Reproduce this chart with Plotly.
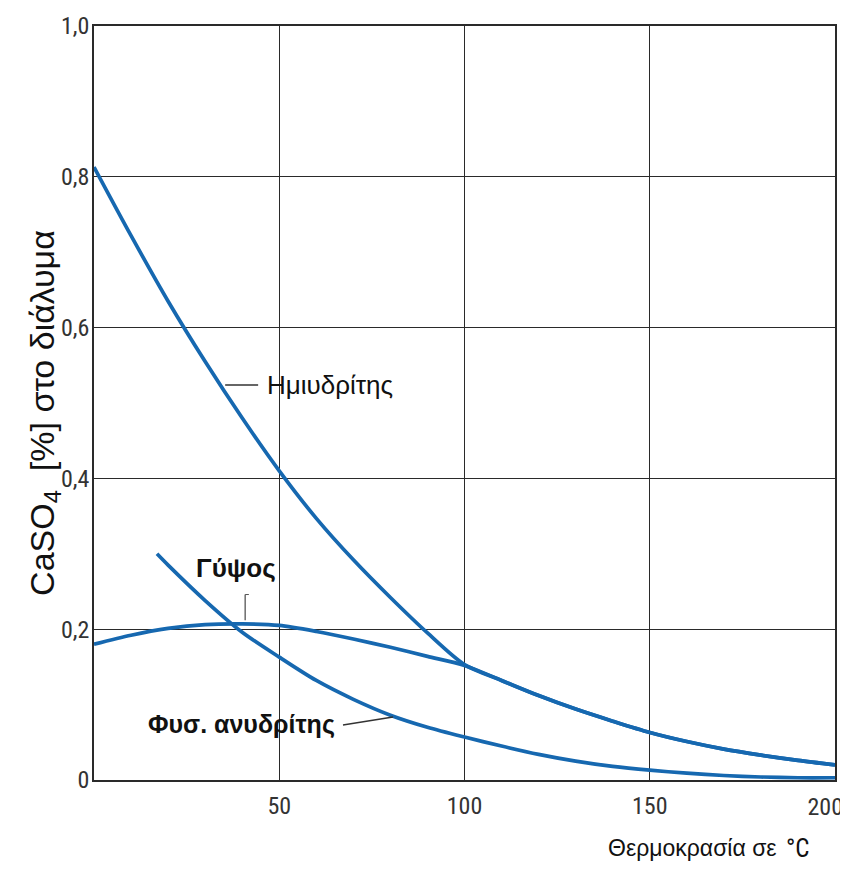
import plotly.graph_objects as go

# ---- data ----
hemi_x = [0, 10, 20, 30, 40, 50, 60, 70, 80, 90, 100, 110, 120, 130, 140, 150, 160, 170, 180, 190, 200]
hemi_y = [0.813, 0.722, 0.635, 0.555, 0.480, 0.410, 0.347, 0.292, 0.242, 0.195, 0.153,
          0.132, 0.112, 0.094, 0.078, 0.063, 0.051, 0.041, 0.033, 0.026, 0.020]

gyps_x = [0, 10, 20, 30, 40, 50, 60, 70, 80, 90, 100, 110, 120, 130, 140, 150, 160, 170, 180, 190, 200]
gyps_y = [0.180, 0.192, 0.201, 0.206, 0.207, 0.205, 0.197, 0.187, 0.176, 0.164, 0.152,
          0.132, 0.112, 0.094, 0.078, 0.063, 0.051, 0.041, 0.033, 0.026, 0.020]

anhy_x = [17, 20, 30, 40, 50, 60, 70, 80, 90, 100, 110, 120, 130, 140, 150, 160, 170, 180, 190, 200]
anhy_y = [0.300, 0.285, 0.238, 0.196, 0.163, 0.132, 0.107, 0.086, 0.070, 0.057, 0.045,
          0.034, 0.025, 0.018, 0.013, 0.009, 0.006, 0.004, 0.003, 0.003]

x_tickvals = [50, 100, 150, 200]
x_ticktext = ["50", "100", "150", "200"]
y_tickvals = [0, 0.2, 0.4, 0.6, 0.8, 1.0]
y_ticktext = ["0", "0,2", "0,4", "0,6", "0,8", "1,0"]

series_names = ["Ημιυδρίτης", "Γύψος", "Φυσ. ανυδρίτης"]
y_title = "CaSO<sub>4</sub>&nbsp;&nbsp;[%] στο διάλυμα"
x_title = "Θερμοκρασία σε"
x_unit = "°C"

LINE = "#1668b0"
NARROW = "Roboto Condensed, Liberation Sans Narrow, Arial Narrow, sans-serif"
SANS = "Liberation Sans, Arial, sans-serif"

fig = go.Figure()
for xs, ys, nm, xa in [(hemi_x, hemi_y, series_names[0], "x"),
                       (gyps_x, gyps_y, series_names[1], "x"),
                       (anhy_x, anhy_y, series_names[2], "x2")]:
    fig.add_trace(go.Scatter(x=xs, y=ys, mode="lines", name=nm, xaxis=xa, yaxis="y",
                             line=dict(color=LINE, width=3.7, shape="spline", smoothing=0.8),
                             hoverinfo="skip"))

grid_col = "#2a2a2a"
tick_font = dict(family=NARROW, size=24, color="#333333")

fig.update_layout(
    xaxis=dict(range=[0, 200], tickvals=x_tickvals[:-1], ticktext=x_ticktext[:-1],
               showgrid=True, gridcolor=grid_col, gridwidth=1.3,
               showline=True, linecolor=grid_col, linewidth=1.5, mirror=True,
               zeroline=False, ticks="", ticklen=0, automargin=False,
               ticklabelstandoff=3, tickfont=tick_font),
    # the last x tick label sits flush with the right edge, as in the reference
    xaxis2=dict(range=[0, 200], matches="x", overlaying="x", anchor="y", side="bottom",
                tickvals=x_tickvals[-1:], ticktext=x_ticktext[-1:],
                ticklabelposition="outside left", ticklabelshift=8,
                showgrid=False, showline=False, zeroline=False, ticks="", ticklen=0,
                automargin=False, ticklabelstandoff=10, tickfont=tick_font),
    yaxis=dict(range=[0, 1.0], tickvals=y_tickvals, ticktext=y_ticktext,
               showgrid=True, gridcolor=grid_col, gridwidth=1.3,
               showline=True, linecolor=grid_col, linewidth=1.5, mirror=True,
               zeroline=False, ticks="", ticklen=0, automargin=False,
               ticklabelstandoff=-2, tickfont=tick_font),
)

# white breaks in the 50 gridline behind labels
fig.add_shape(type="rect", x0=47, x1=53, y0=0.50, y1=0.555, fillcolor="white",
              line=dict(width=0), layer="below")
fig.add_shape(type="rect", x0=47, x1=53, y0=0.030, y1=0.110, fillcolor="white",
              line=dict(width=0), layer="below")

# leader lines
lead = dict(color="#333333", width=1.5)
fig.add_shape(type="line", x0=35.4, x1=44.3, y0=0.524, y1=0.524, line=lead)
fig.add_shape(type="line", x0=40.8, x1=40.8, y0=0.212, y1=0.246, line=dict(color="#555555", width=1.3))
fig.add_shape(type="line", x0=40.8, x1=41.8, y0=0.246, y1=0.246, line=dict(color="#555555", width=1.0))
fig.add_shape(type="line", x0=67.2, x1=80.7, y0=0.073, y1=0.0836, line=lead)

fig.add_annotation(x=46.2, y=0.524, xanchor="left", yanchor="middle", showarrow=False,
                   text=series_names[0], font=dict(family=SANS, size=26, color="#111111"))
fig.add_annotation(x=38.4, y=0.281, xanchor="center", yanchor="middle", showarrow=False,
                   text="<b>" + series_names[1] + "</b>", font=dict(family=SANS, size=26, color="#111111"))
fig.add_annotation(x=39.8, y=0.073, xanchor="center", yanchor="middle", showarrow=False,
                   text="<b>" + series_names[2] + "</b>", font=dict(family=SANS, size=25, color="#111111"))

# y axis title
fig.add_annotation(xref="paper", yref="paper", x=-0.066, y=0.487, xanchor="center", yanchor="middle",
                   textangle=-90, showarrow=False, text=y_title,
                   font=dict(family=SANS, size=34, color="#111111"))

# x axis title (bottom right)
fig.add_annotation(xref="paper", yref="paper", x=0.925, y=-0.0902, xanchor="right", yanchor="middle",
                   showarrow=False, text=x_title,
                   font=dict(family=SANS, size=23, color="#111111"))
fig.add_annotation(xref="paper", yref="paper", x=0.931, y=-0.0902, xanchor="left", yanchor="middle",
                   showarrow=False, text=x_unit,
                   font=dict(family=NARROW, size=25, color="#111111"))

# the page body adds an 8px margin; size the figure so the plot lands where the reference has it
fig.update_layout(width=840, height=866, showlegend=False,
                  paper_bgcolor="white", plot_bgcolor="white",
                  margin=dict(l=86, r=12.5, t=18, b=94))

fig.write_html("out.html")
